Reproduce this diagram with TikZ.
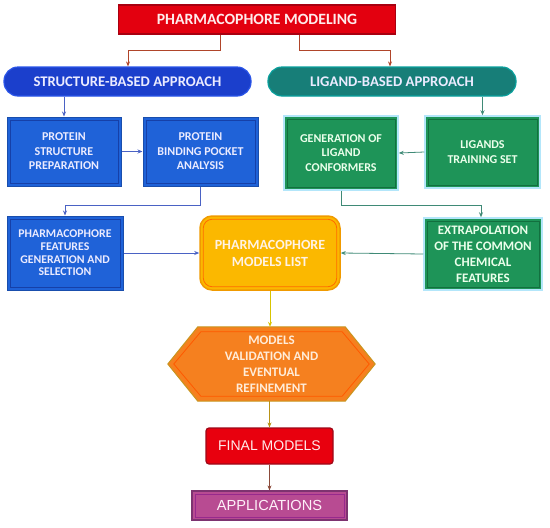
\documentclass[tikz,border=0pt]{standalone}
\usepackage{fontspec}
\setmainfont{Carlito}
\newfontfamily\arialf{Liberation Sans}
\usetikzlibrary{arrows.meta,calc}
\pgfdeclarelayer{background}
\pgfsetlayers{background,main}
\definecolor{titlered}{HTML}{E3000F}
\definecolor{titleredd}{HTML}{A80010}
\definecolor{sbblue}{HTML}{1B3FCC}
\definecolor{sbblued}{HTML}{2A55E8}
\definecolor{boxblue}{HTML}{1F62D8}
\definecolor{boxblued}{HTML}{1640A8}
\definecolor{lbteal}{HTML}{177E78}
\definecolor{lbteald}{HTML}{0F605B}
\definecolor{boxgreen}{HTML}{1E9458}
\definecolor{boxgreend}{HTML}{12703F}
\definecolor{mlyellow}{HTML}{FBB800}
\definecolor{mlyellowd}{HTML}{F09A00}
\definecolor{hexorange}{HTML}{F5801F}
\definecolor{hexoranged}{HTML}{C8951E}
\definecolor{finred}{HTML}{E8000E}
\definecolor{finredd}{HTML}{9E0818}
\definecolor{appmag}{HTML}{B84B92}
\definecolor{appmagd}{HTML}{7D3370}
\definecolor{arrred}{HTML}{B0452A}
\definecolor{arrblue}{HTML}{4A62C4}
\definecolor{arrgreen}{HTML}{3F8A76}
\definecolor{arryellow}{HTML}{D8C400}
\definecolor{arrbrown}{HTML}{8B4A3A}
\tikzset{
  base/.style={inner sep=0pt, align=center, font=\bfseries\fontsize{12}{14.5}\selectfont},
  inset/.style={path picture={\draw[#1,line width=0.9pt]
     ([shift={(3pt,-3pt)}]path picture bounding box.north west) rectangle
     ([shift={(-3pt,3pt)}]path picture bounding box.south east);}},
  bluebox/.style={base, fill=boxblue, draw=boxblue!80!black, line width=1pt, inset=boxblued, text=white!92!blue},
  greenbox/.style={base, fill=boxgreen, draw=cyan!30, line width=1.5pt, inset=boxgreend, text=green!8!white},
  pill/.style={base, rounded corners=14pt, line width=1.2pt, font=\bfseries\fontsize{14.7}{16}\selectfont, text=white!92!blue},
  conn/.style={-{Stealth[length=5pt,width=4pt]}, line width=0.8pt},
}
\begin{document}
\begin{tikzpicture}[x=1pt,y=-1pt]
\useasboundingbox (0,0) rectangle (550,528);

% title
\node[base, fill=titlered, draw=titleredd, line width=1.2pt, minimum width=277pt, minimum height=29pt,
  font=\bfseries\fontsize{15.7}{17}\selectfont, text=red!8!white] (title) at (257,19.5) {PHARMACOPHORE MODELING};

% approaches
\node[pill, fill=sbblue, draw=sbblued, minimum width=247pt, minimum height=29pt] (sb) at (127.5,81.5) {STRUCTURE-BASED APPROACH};
\node[pill, fill=lbteal, draw=lbteald!60!cyan, minimum width=248pt, minimum height=29pt] (lb) at (392,81.5) {LIGAND-BASED APPROACH};

% structure based boxes
\node[bluebox, minimum width=114pt, minimum height=69pt] (psp) at (64,151.5) {PROTEIN\\STRUCTURE\\PREPARATION};
\node[bluebox, minimum width=115pt, minimum height=69pt] (pbp) at (200.5,151.5) {PROTEIN\\BINDING POCKET\\ANALYSIS};
\node[bluebox, minimum width=116pt, minimum height=74pt, font=\bfseries\fontsize{11.8}{12.6}\selectfont] (pfg) at (65,253) {PHARMACOPHORE\\FEATURES\\GENERATION AND\\SELECTION};

% ligand based boxes
\node[greenbox, minimum width=114pt, minimum height=74pt] (glc) at (341,153) {GENERATION OF\\LIGAND\\CONFORMERS};
\node[greenbox, minimum width=115pt, minimum height=72pt] (lts) at (482.5,152) {LIGANDS\\TRAINING SET};
\node[greenbox, minimum width=118pt, minimum height=72pt, font=\bfseries\fontsize{13}{16}\selectfont] (ecf) at (483,254) {EXTRAPOLATION\\OF THE COMMON\\CHEMICAL\\FEATURES};

% models list
\node[base, fill=mlyellow, draw=mlyellowd, line width=1.5pt, rounded corners=12pt, minimum width=140pt, minimum height=74pt,
  font=\bfseries\fontsize{14}{17}\selectfont, text=orange!10!white] (ml) at (270,253) {PHARMACOPHORE\\MODELS LIST};
\draw[orange!85!red, line width=0.8pt, rounded corners=9pt] ($(ml.north west)+(4,4)$) rectangle ($(ml.south east)+(-4,-4)$);

% hexagon
\node[base, minimum width=147pt, minimum height=74pt, font=\bfseries\fontsize{13}{16}\selectfont, text=orange!15!white] (hex) at (271.5,364) {MODELS\\VALIDATION AND\\EVENTUAL\\REFINEMENT};
\begin{pgfonlayer}{background}
\fill[hexorange, draw=hexoranged, line width=1pt] (hex.north west) -- (hex.north east) -- ($(hex.east)+(30,0)$) -- (hex.south east) -- (hex.south west) -- ($(hex.west)+(-30,0)$) -- cycle;
\draw[orange!70!red, line width=0.8pt] ($(hex.north west)+(3,5)$) -- ($(hex.north east)+(-3,5)$) -- ($(hex.east)+(24,0)$) -- ($(hex.south east)+(-3,-5)$) -- ($(hex.south west)+(3,-5)$) -- ($(hex.west)+(-24,0)$) -- cycle;
\end{pgfonlayer}

% final models & applications
\node[base, fill=finred, draw=finredd, line width=1.2pt, rounded corners=3pt, minimum width=127pt, minimum height=36pt,
  font=\arialf\fontsize{14}{15}\selectfont, text=red!8!white] (fin) at (269.5,446) {FINAL MODELS};
\node[base, fill=appmag, draw=appmagd, line width=1.2pt, minimum width=155pt, minimum height=29pt,
  font=\arialf\fontsize{14.6}{15}\selectfont, text=magenta!6!white, inset=appmagd!80!magenta] (app) at (269.5,505.5) {APPLICATIONS};

% connectors
\draw[conn, arrred] ([xshift=-37pt]title.south) |- (128,50) -- (sb.north -| 128,0);
\draw[conn, arrred] ([xshift=42pt]title.south) |- (390,50) -- (lb.north -| 390,0);
\draw[conn, arrblue] (sb.south -| psp.north) -- (psp.north);
\draw[conn, arrblue] (psp.east) -- (pbp.west);
\draw[conn, arrblue] (pbp.south) |- (65,205) -- (pfg.north);
\draw[conn, arrblue] (pfg.east) -- (ml.west);
\draw[conn, arrgreen] (lb.south -| lts.north) -- (lts.north);
\draw[conn, arrgreen] (lts.west) -- (glc.east);
\draw[conn, arrgreen] (glc.south) |- (481,205) -- (ecf.north -| 481,0);
\draw[conn, arrgreen] (ecf.west) -- (ml.east);
\draw[conn, arryellow] (ml.south) -- (hex.north -| ml.south);
\draw[conn, arryellow!60!arrbrown] (hex.south -| fin.north) -- (fin.north);
\draw[conn, arrbrown] (fin.south) -- (app.north);
\end{tikzpicture}
\end{document}
